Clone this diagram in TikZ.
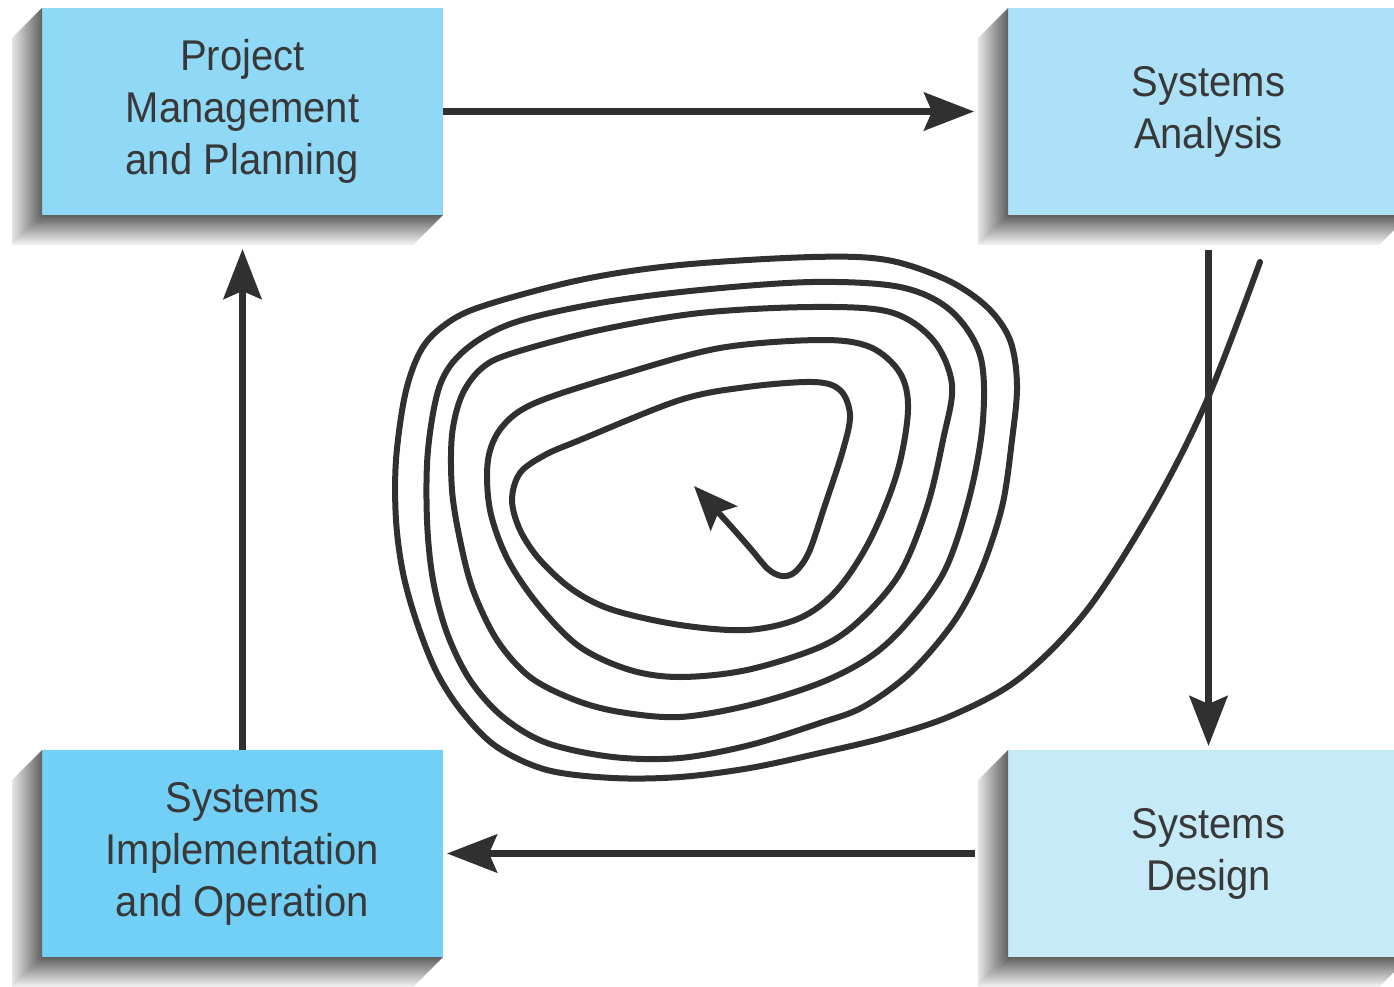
\documentclass[tikz,border=0pt]{standalone}
\usepackage{fontspec}
\setmainfont{Liberation Sans}[FakeStretch=0.93]
\usepackage{tikz}
\usepackage{xcolor}
\usetikzlibrary{positioning,arrows.meta}

\definecolor{ink}{HTML}{303030}
\definecolor{txtgray}{HTML}{383838}
\definecolor{fillpm}{HTML}{8FD9F7}
\definecolor{fillsa}{HTML}{ADE1F7}
\definecolor{fillsd}{HTML}{C6EAF8}
\definecolor{fillsio}{HTML}{72CFF5}

\begin{document}
\begin{tikzpicture}
[
x=1pt, y=-1pt,
box-a/.style={rectangle, inner sep=0pt, outer sep=0pt, minimum width=401pt, minimum height=207pt, align=center, text=txtgray, font=\fontsize{43}{52}\selectfont},
side-a/.style={left color=gray!20, right color=gray!75!black},
base-a/.style={top color=gray!75!black, bottom color=gray!8},
flow-a/.style={draw=ink, line width=6.5pt, shorten >=4pt, -{Stealth[length=50pt, width=38pt, inset=8pt]}},
spiral-a/.style={draw=ink, line width=6pt, line cap=round, line join=round, -{Stealth[length=44pt, width=36pt, inset=8pt]}}
]
\clip (0,0) rectangle (1394,987);
\node (box-pm)  [box-a, fill=fillpm]                             at (242.5,111.5) {Project\\Management\\and Planning};
\node (box-sa)  [box-a, fill=fillsa,  right = 565pt of box-pm]   {Systems\\Analysis};
\node (box-sio) [box-a, fill=fillsio, below = 535pt of box-pm]   {Systems\\Implementation\\and Operation};
\node (box-sd)  [box-a, fill=fillsd,  below = 535pt of box-sa]   {Systems\\Design};
% bevel shadows
\foreach \b in {box-pm, box-sa, box-sio, box-sd} {
  \shade[side-a] ([xshift=-30pt, yshift=-30pt]\b.north west) -- (\b.north west) -- (\b.south west) -- ([xshift=-30pt, yshift=-30pt]\b.south west) -- cycle;
  \shade[base-a] ([xshift=-30pt, yshift=-30pt]\b.south west) -- (\b.south west) -- (\b.south east) -- ([xshift=-30pt, yshift=-30pt]\b.south east) -- cycle;
}
% cycle arrows
\draw[flow-a] (box-pm.east) -- ([xshift=-30pt]box-sa.west);
\draw[flow-a] ([yshift=-35pt]box-sa.south) -- (box-sd.north);
\draw[flow-a] ([xshift=-33pt]box-sd.west) -- (box-sio.east);
\draw[flow-a] (box-sio.north) -- ([yshift=-30pt]box-pm.south);
% spiral
\draw[spiral-a] plot[smooth, tension=0.55] coordinates {
  (1260,262) (1207,400) (1153,507) (1087,610) (1020,678) (953,715) (887,737) (820,753)
  (750,768) (680,777) (613,778) (547,770) (497,747) (463,713) (437,673) (417,623)
  (403,573) (396,520) (396,460) (405,395) (420,352) (442,327) (480,307) (580,280)
  (680,265) (813,257) (887,260) (947,280) (987,307) (1010,340) (1017,385) (1012,440)
  (1002,507) (980,573) (953,623) (910,673) (863,707)
  (820,723) (750,745) (680,758) (613,757) (547,743) (503,717) (470,680) (447,633)
  (433,580) (427,520) (428,450) (440,385) (465,350) (513,323) (600,303) (700,290)
  (813,282) (900,287) (950,310) (980,355) (983,420) (970,495) (945,570) (907,623)
  (870,657) (820,683) (750,705) (680,717) (620,712) (575,700) (530,677) (497,640)
  (473,590) (460,540) (452,490) (452,435) (462,395) (482,368) (513,353) (600,330)
  (700,313) (813,307) (890,312) (933,340) (952,385) (943,440) (927,507) (900,573)
  (860,620) (820,647) (747,670) (680,677) (630,670) (580,647) (540,607) (508,560)
  (490,510) (488,460) (502,427) (535,403) (620,375) (720,348) (820,340) (870,347)
  (900,373) (908,410) (897,473) (870,540) (837,590) (800,618) (747,630)
  (680,625) (613,610) (573,590) (540,560) (520,530) (512,500) (520,473) (545,455)
  (580,440) (680,400) (747,387) (813,382) (840,390) (850,415) (843,450) (825,505)
  (809,552) (795,572) (782,576) (768,569) (750,548) (727,522) (694,486)
};
\end{tikzpicture}
\end{document}
